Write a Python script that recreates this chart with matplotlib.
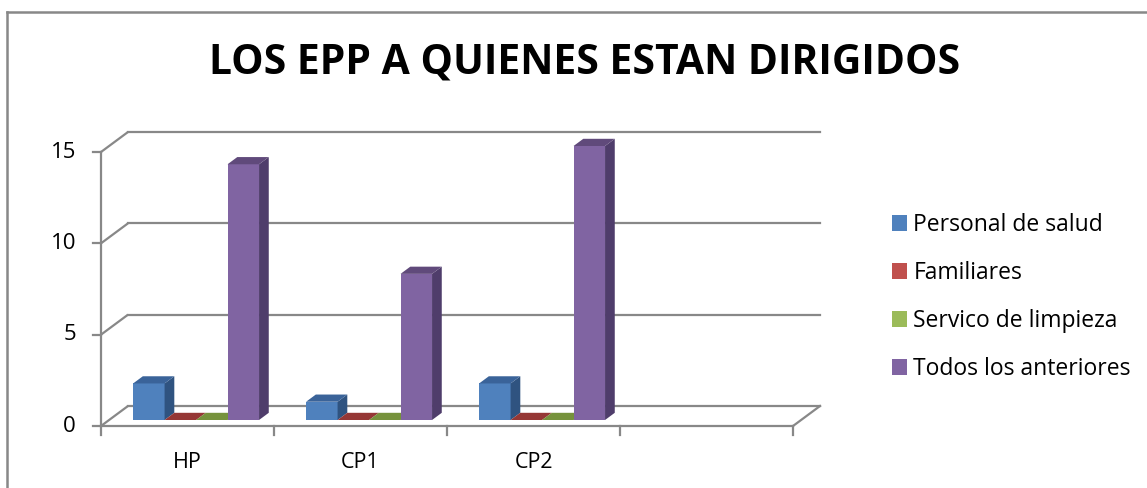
import numpy as np
import matplotlib.pyplot as plt
from matplotlib.patches import Polygon, Patch

plt.rcParams['font.family'] = ['Open Sans', 'DejaVu Sans']

# datos
categorias = ['HP', 'CP1', 'CP2', '']
series = ['Personal de salud', 'Familiares', 'Servico de limpieza', 'Todos los anteriores']
personal = [2, 1, 2]
familiares = [0, 0, 0]
limpieza = [0, 0, 0]
todos = [14, 8, 15]
valores = [personal, familiares, limpieza, todos]
yticks = [0, 5, 10, 15]

# colores (frente, lado, arriba)
colores = [('#4F81BD', '#2F5380', '#3A6399'),
           ('#C0504D', '#8A3533', '#953735'),
           ('#9BBB59', '#6E8A3A', '#76923C'),
           ('#8064A2', '#4F3D6B', '#604A7B')]
gris = '#888888'

W, H = 1147, 488
fig = plt.figure(figsize=(W / 100, H / 100), dpi=100)

# ejes: plano frontal x 0..4 -> px 101..793, y 0..15 -> px 426..152
x0, x1, y0, y1 = 101, 793, 426, 152
ax = fig.add_axes([x0 / W, (H - y0) / H, (x1 - x0) / W, (y0 - y1) / H])
ax.set_xlim(0, 4)
ax.set_ylim(0, 15)
ax.axis('off')

pxx = (x1 - x0) / 4.0
pxy = (y0 - y1) / 15.0
dx = 27 / pxx   # profundidad en unidades de datos
dy = 20 / pxy

# paredes y rejilla
for v in yticks:
    ax.plot([0, dx], [v, v + dy], color=gris, lw=1.6, clip_on=False, solid_capstyle='butt')
    ax.plot([dx, 4 + dx], [v + dy, v + dy], color=gris, lw=1.6, clip_on=False)
    ax.plot([-8 / pxx, 0], [v, v], color=gris, lw=1.6, clip_on=False)
    ax.text(-25 / pxx, v, str(v), ha='right', va='center', fontsize=16, color='black')
ax.plot([0, 0], [0, 15], color=gris, lw=1.6, clip_on=False)
ax.plot([0, 4], [0, 0], color=gris, lw=1.6, clip_on=False)
ax.plot([4, 4 + dx], [0, dy], color=gris, lw=1.6, clip_on=False)
for i in range(5):
    ax.plot([i, i], [0, -9 / pxy], color=gris, lw=1.6, clip_on=False)
for i, c in enumerate(categorias):
    ax.text(i + 0.5, -37 / pxy, c, ha='center', va='center', fontsize=15.5)

# barras 3D
f0, prof = 0.30, 0.36
ancho = 0.182
gap = 24 / pxx
for i in range(3):
    for k in range(4):
        h = valores[k][i]
        xl = i + gap + k * ancho + f0 * dx
        yb = f0 * dy
        ddx, ddy = prof * dx, prof * dy
        cf, cs, ct = colores[k]
        if h > 0:
            ax.add_patch(Polygon([(xl, yb), (xl + ancho, yb), (xl + ancho, yb + h), (xl, yb + h)],
                                 closed=True, fc=cf, ec='none', clip_on=False, zorder=3))
            ax.add_patch(Polygon([(xl + ancho, yb), (xl + ancho + ddx, yb + ddy),
                                  (xl + ancho + ddx, yb + ddy + h), (xl + ancho, yb + h)],
                                 closed=True, fc=cs, ec='none', clip_on=False, zorder=3))
        ax.add_patch(Polygon([(xl, yb + h), (xl + ancho, yb + h),
                              (xl + ancho + ddx, yb + h + ddy), (xl + ddx, yb + h + ddy)],
                             closed=True, fc=ct, ec='none', clip_on=False, zorder=3))

# titulo
fig.text(585 / W, 1 - 63 / H, 'LOS EPP A QUIENES ESTAN DIRIGIDOS', ha='center', va='center',
         fontsize=29.4, fontweight='bold')

# leyenda
handles = [Patch(fc=c[0], ec='none') for c in colores]
fig.legend(handles, series, loc='center left', bbox_to_anchor=(883 / W, 1 - 297 / H),
           frameon=False, fontsize=16.5, handlelength=0.65, handleheight=0.65,
           handletextpad=0.27, labelspacing=1.05, borderaxespad=0)

# borde
fig.add_artist(plt.Line2D([7 / W, 7 / W], [0, 1 - 12 / H], color=gris, lw=1.8))
fig.add_artist(plt.Line2D([7 / W, 1], [1 - 12 / H, 1 - 12 / H], color=gris, lw=1.8))

fig.savefig('out.png', dpi=100)
